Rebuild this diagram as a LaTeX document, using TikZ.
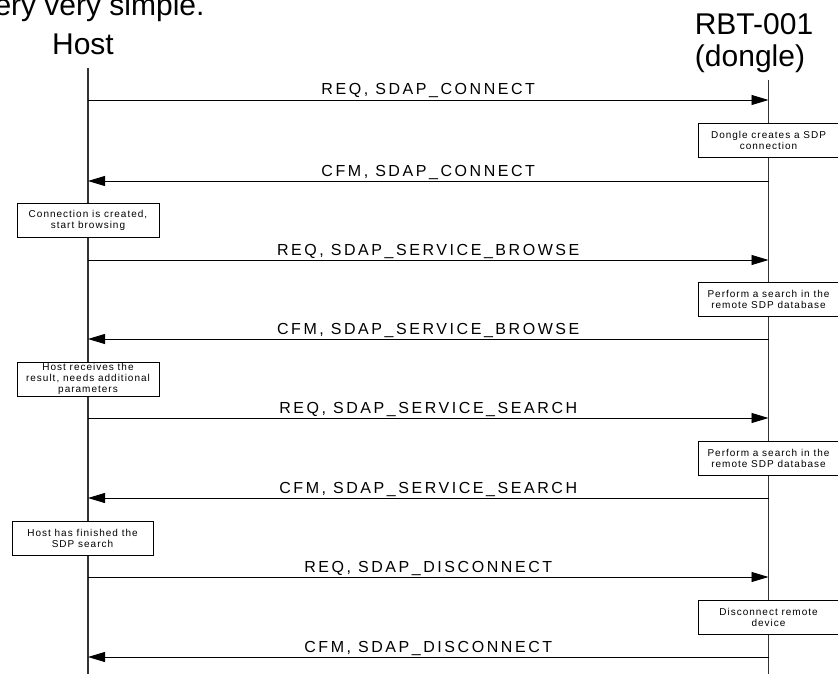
\documentclass[tikz,border=0pt]{standalone}
\usepackage{fontspec}
\setmainfont{Liberation Sans}
\newfontfamily\msgfont[LetterSpace=16]{Liberation Sans}
\newfontfamily\notefont[LetterSpace=10]{Liberation Sans}
\usetikzlibrary{arrows.meta,positioning}

\tikzset{
  msg/.style={anchor=base,yshift=5pt,inner sep=0pt,
              font=\msgfont\fontsize{16}{18}\selectfont},
  note/.style={draw,fill=white,inner sep=0pt,minimum width=140pt,
               minimum height=34pt,align=center,
               font=\notefont\fontsize{10}{11}\selectfont},
  life/.style={line width=1.3pt,black!80},
  big/.style={inner sep=0pt,font=\fontsize{30}{34}\selectfont}
}

\begin{document}
\begin{tikzpicture}[x=1pt,y=-1pt,>={Triangle[length=17pt,width=10pt]},
                    line width=0.9pt]
  \useasboundingbox (0,0) rectangle (838,674);

  % headings
  \node[big,anchor=base east] (title)  at (205,16)  {ery very simple.};
  \node[big,anchor=base]      (host)   at (83,55)   {Host};
  \node[big,anchor=base]      (rbt)    at (754,35)  {RBT-001};
  \node[big,anchor=base]      (dongle) at (750,67)  {(dongle)};

  % lifelines
  \coordinate (h0) at (88,68);    \coordinate (hE) at (88,674);
  \coordinate (d0) at (768.5,80); \coordinate (dE) at (768.5,674);
  \draw[life] (h0) -- (hE);
  \draw[life] (d0) -- (dE);

  \foreach \i/\y in {1/100,2/181,3/260,4/339,5/418,6/498,7/577,8/657}{
    \coordinate (h\i) at (88,\y);
    \coordinate (d\i) at (768.5,\y);
  }

  % messages
  \draw[->] (h1) -- node[msg] {REQ, SDAP\_CONNECT} (d1);
  \draw[->] (d2) -- node[msg] {CFM, SDAP\_CONNECT} (h2);
  \draw[->] (h3) -- node[msg] {REQ, SDAP\_SERVICE\_BROWSE} (d3);
  \draw[->] (d4) -- node[msg] {CFM, SDAP\_SERVICE\_BROWSE} (h4);
  \draw[->] (h5) -- node[msg] {REQ, SDAP\_SERVICE\_SEARCH} (d5);
  \draw[->] (d6) -- node[msg] {CFM, SDAP\_SERVICE\_SEARCH} (h6);
  \draw[->] (h7) -- node[msg] {REQ, SDAP\_DISCONNECT} (d7);
  \draw[->] (d8) -- node[msg] {CFM, SDAP\_DISCONNECT} (h8);

  % notes on the lifelines
  \node[note] (n1) at (768.5,140) {Dongle creates a SDP\\connection};
  \node[note,minimum width=142pt] (n2) at (88,220) {Connection is created,\\start browsing};
  \node[note] (n3) at (768.5,299) {Perform a search in the\\remote SDP database};
  \node[note,minimum width=142pt] (n4) at (88,379) {Host receives the\\result, needs additional\\parameters};
  \node[note] (n5) at (768.5,458.5) {Perform a search in the\\remote SDP database};
  \node[note,minimum width=141pt] (n6) at (82.5,538) {Host has finished the\\SDP search};
  \node[note] (n7) at (768.5,617) {Disconnect remote\\device};
\end{tikzpicture}
\end{document}
